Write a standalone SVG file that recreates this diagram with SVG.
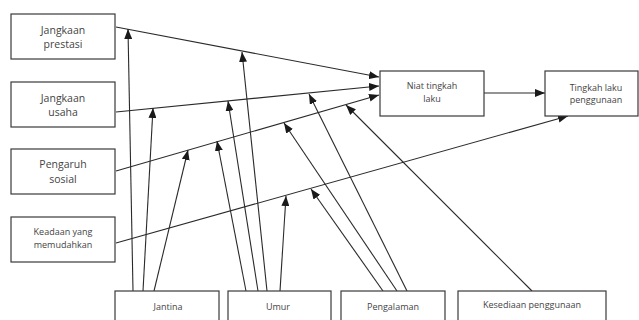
<svg xmlns="http://www.w3.org/2000/svg" width="639" height="320" viewBox="0 0 639 320">
<style>
.box{fill:#fff;stroke:#3a3a3a;stroke-width:1.2}
.t{font-family:"Open Sans","Liberation Sans",sans-serif;fill:#444;text-anchor:middle}
.l{font-size:10.5px}
.s{font-size:9px}
.c line{stroke:#2a2a2a;stroke-width:1.1;fill:none}
.c .a{marker-end:url(#ah)}
</style>
<defs>
<marker id="ah" markerUnits="userSpaceOnUse" markerWidth="10" markerHeight="8" refX="10" refY="4" orient="auto">
<path d="M0,0 L10,4 L0,8 z" fill="#1a1a1a"/>
</marker>
</defs>
<rect width="639" height="320" fill="#fff"/>
<g class="c" id="connectors">
<line class="a" x1="116" y1="27" x2="379" y2="77"/>
<line class="a" x1="116" y1="112" x2="379" y2="86"/>
<line class="a" x1="116" y1="171" x2="379" y2="95"/>
<line class="a" x1="116" y1="243" x2="568" y2="116"/>
<line class="a" x1="484" y1="93" x2="545" y2="93"/>
<line class="a" x1="133" y1="291" x2="128" y2="29"/>
<line class="a" x1="143" y1="291" x2="153" y2="108"/>
<line class="a" x1="154" y1="291" x2="188" y2="150"/>
<line class="a" x1="246" y1="291" x2="217" y2="141"/>
<line class="a" x1="258" y1="291" x2="228" y2="101"/>
<line class="a" x1="267" y1="291" x2="242" y2="52"/>
<line class="a" x1="280" y1="291" x2="286" y2="196"/>
<line class="a" x1="383" y1="291" x2="311" y2="189"/>
<line class="a" x1="397" y1="291" x2="284" y2="123"/>
<line class="a" x1="407" y1="291" x2="309" y2="94"/>
<line class="a" x1="532" y1="291" x2="346" y2="105"/>
</g>
<g id="jangkaan-prestasi"><rect class="box" x="11" y="14" width="104" height="45"/><text class="t l" x="63" y="34">Jangkaan</text><text class="t l" x="63" y="48">prestasi</text></g>
<g id="jangkaan-usaha"><rect class="box" x="11" y="82" width="104" height="45"/><text class="t l" x="63" y="102">Jangkaan</text><text class="t l" x="63" y="116">usaha</text></g>
<g id="pengaruh-sosial"><rect class="box" x="11" y="149" width="104" height="45"/><text class="t l" x="63" y="168">Pengaruh</text><text class="t l" x="63" y="183">sosial</text></g>
<g id="keadaan"><rect class="box" x="11" y="217" width="104" height="45"/><text class="t s" x="63" y="235">Keadaan yang</text><text class="t s" x="63" y="248">memudahkan</text></g>
<g id="niat"><rect class="box" x="380" y="71" width="104" height="45"/><text class="t s" x="432" y="89">Niat tingkah</text><text class="t s" x="432" y="102">laku</text></g>
<g id="tingkah-laku"><rect class="box" x="545" y="71" width="93" height="45"/><text class="t s" x="596" y="91">Tingkah laku</text><text class="t s" x="596" y="103">penggunaan</text></g>
<g id="jantina"><rect class="box" x="115" y="291" width="104" height="40"/><text class="t s" x="168" y="310">Jantina</text></g>
<g id="umur"><rect class="box" x="228" y="291" width="103" height="40"/><text class="t s" x="278" y="310">Umur</text></g>
<g id="pengalaman"><rect class="box" x="341" y="291" width="104" height="40"/><text class="t s" x="393" y="310">Pengalaman</text></g>
<g id="kesediaan"><rect class="box" x="458" y="291" width="148" height="40"/><text class="t s" x="532" y="308">Kesediaan penggunaan</text></g>
</svg>
